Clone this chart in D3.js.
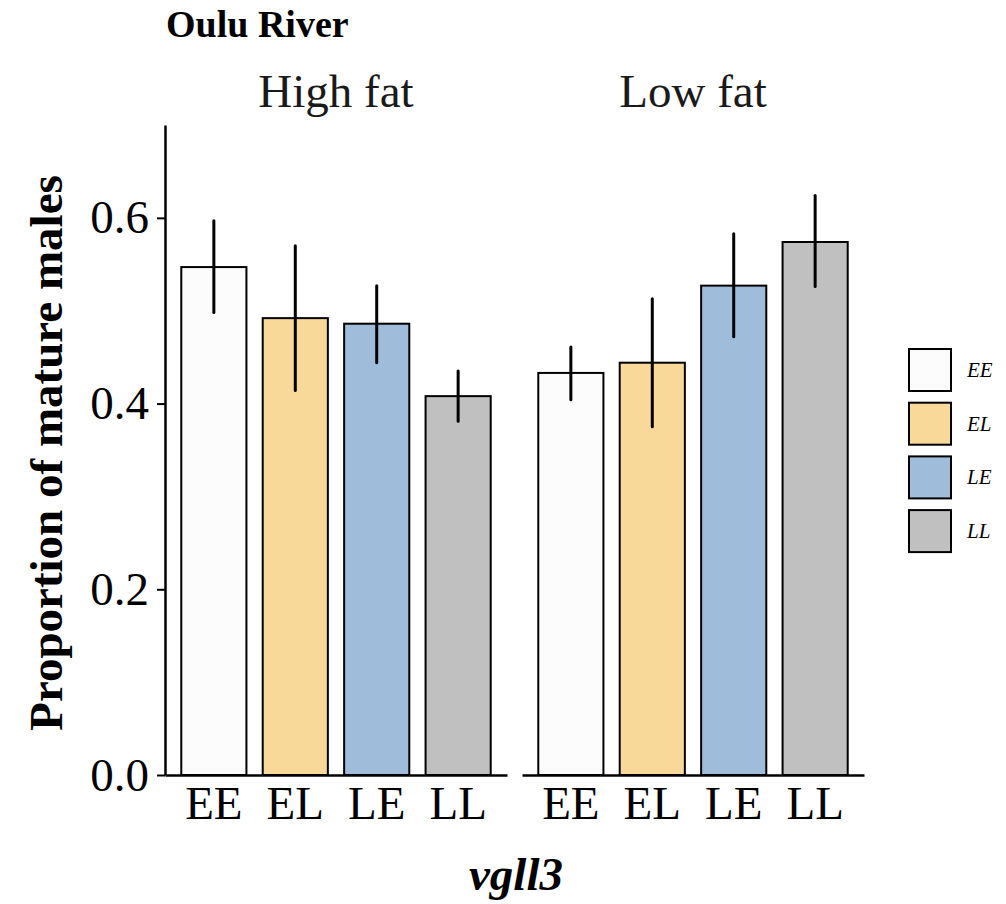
<!DOCTYPE html>
<html>
<head>
<meta charset="utf-8">
<script src="https://cdnjs.cloudflare.com/ajax/libs/d3/7.8.5/d3.min.js"></script>
<style>
  body { margin: 0; background: #fff; }
  svg text { font-family: 'Liberation Serif', 'DejaVu Serif', serif; }
</style>
</head>
<body>
<div id="chart"></div>
<script>
'use strict'
// data
let panels = ['High fat', 'Low fat'];
let genotypes = ['EE', 'EL', 'LE', 'LL'];
let highFat = [0.547, 0.492, 0.486, 0.408];
let highFatLo = [0.498, 0.414, 0.444, 0.381];
let highFatHi = [0.597, 0.570, 0.527, 0.435];
let lowFat = [0.433, 0.444, 0.527, 0.574];
let lowFatLo = [0.404, 0.375, 0.472, 0.526];
let lowFatHi = [0.461, 0.513, 0.583, 0.624];
let yTicks = [0, 0.2, 0.4, 0.6];
let colors = ['#fcfcfc', '#f9d99a', '#9fbcda', '#c0c0c0'];

let W = 1006, H = 904;
let svg = d3.select('#chart').append('svg')
  .attr('width', W).attr('height', H);

let y = d3.scaleLinear().domain([0, 0.7]).range([775, 125]);
let panelX = [[165, 507], [522, 864]];
let color = d3.scaleOrdinal().domain(genotypes).range(colors);

let panelData = [
  genotypes.map(function(g, i) { return {g: g, v: highFat[i], lo: highFatLo[i], hi: highFatHi[i]}; }),
  genotypes.map(function(g, i) { return {g: g, v: lowFat[i], lo: lowFatLo[i], hi: lowFatHi[i]}; })
];

// title
svg.append('text')
  .attr('x', 166).attr('y', 37)
  .attr('font-size', '38px').attr('font-weight', 'bold')
  .text('Oulu River');

panels.forEach(function(p, k) {
  let x = d3.scaleBand().domain(genotypes)
    .range(panelX[k]).paddingInner(0.2).paddingOuter(0.2);
  let g = svg.append('g');

  // strip label
  g.append('text')
    .attr('x', (panelX[k][0] + panelX[k][1]) / 2).attr('y', 107)
    .attr('text-anchor', 'middle').attr('font-size', '47px').attr('fill', '#1a1a1a')
    .text(p);

  g.selectAll('.bar').data(panelData[k]).enter().append('rect')
    .attr('class', 'bar')
    .attr('x', function(d) { return x(d.g); })
    .attr('y', function(d) { return y(d.v); })
    .attr('width', x.bandwidth())
    .attr('height', function(d) { return y(0) - y(d.v); })
    .attr('fill', function(d) { return color(d.g); })
    .attr('stroke', '#000').attr('stroke-width', 2);

  g.selectAll('.err').data(panelData[k]).enter().append('line')
    .attr('class', 'err')
    .attr('x1', function(d) { return x(d.g) + x.bandwidth() / 2; })
    .attr('x2', function(d) { return x(d.g) + x.bandwidth() / 2; })
    .attr('y1', function(d) { return y(d.lo); })
    .attr('y2', function(d) { return y(d.hi); })
    .attr('stroke', '#000').attr('stroke-width', 3).attr('stroke-linecap', 'round');

  let xAxis = g.append('g')
    .attr('transform', 'translate(0,' + y(0) + ')')
    .call(d3.axisBottom(x).tickSize(0).tickPadding(11));
  xAxis.select('.domain').attr('stroke', '#000').attr('stroke-width', 2.5);
  xAxis.selectAll('text')
    .attr('font-size', '47px').attr('fill', '#000')
    .attr('font-family', "'Liberation Serif', serif");
});

// y axis
let yAxis = svg.append('g')
  .attr('transform', 'translate(165,0)')
  .call(d3.axisLeft(y).tickValues(yTicks).tickFormat(d3.format('.1f')).tickSize(8).tickPadding(8).tickSizeOuter(0));
yAxis.select('.domain').attr('stroke', '#000').attr('stroke-width', 2.5);
yAxis.selectAll('.tick line').attr('stroke', '#000').attr('stroke-width', 2);
yAxis.selectAll('text')
  .attr('font-size', '47px').attr('fill', '#000')
  .attr('font-family', "'Liberation Serif', serif");

// axis titles
svg.append('text')
  .attr('transform', 'translate(62,453) rotate(-90)')
  .attr('text-anchor', 'middle')
  .attr('font-size', '47px').attr('font-weight', 'bold')
  .text('Proportion of mature males');

svg.append('text')
  .attr('x', 516).attr('y', 890)
  .attr('text-anchor', 'middle')
  .attr('font-size', '47px').attr('font-weight', 'bold').attr('font-style', 'italic')
  .text('vgll3');

// legend
let legend = svg.append('g');
let key = legend.selectAll('.key').data(genotypes).enter().append('g')
  .attr('class', 'key')
  .attr('transform', function(d, i) { return 'translate(909,' + (349 + i * 53.7) + ')'; });
key.append('rect')
  .attr('width', 42).attr('height', 42)
  .attr('fill', function(d) { return color(d); })
  .attr('stroke', '#000').attr('stroke-width', 2);
key.append('text')
  .attr('x', 58).attr('y', 28)
  .attr('font-size', '21px').attr('font-style', 'italic')
  .text(function(d) { return d; });
</script>
</body>
</html>
